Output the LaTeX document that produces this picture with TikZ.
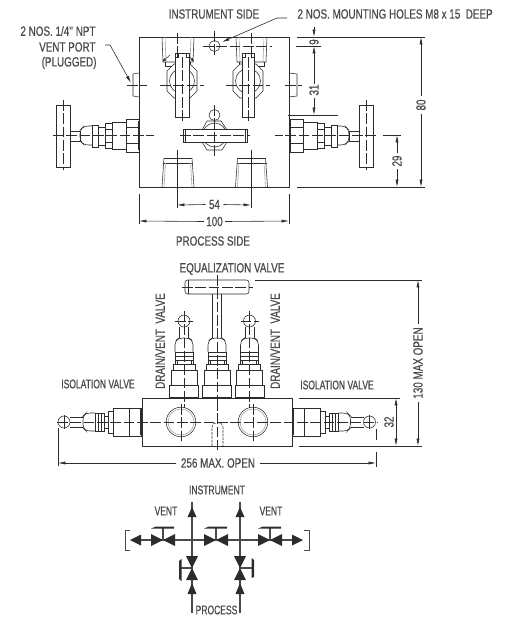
\documentclass[tikz,border=0pt]{standalone}
\usepackage{fontspec}
\usetikzlibrary{arrows.meta}
\newfontfamily\labelfont[FakeStretch=0.74,FakeBold=0.5]{Liberation Sans}
\newfontfamily\tightfont[FakeStretch=0.68,FakeBold=0.5]{Liberation Sans}
\definecolor{inkdark}{HTML}{2C2C2C}
\definecolor{inktext}{HTML}{4A4A4A}
\definecolor{inkgrey}{HTML}{A8A8A8}
\tikzset{every picture/.style={line width=0.75pt}}
\tikzset{
  part/.style={draw=inkdark,line width=0.42pt},
  partw/.style={draw=inkdark,fill=white,line width=0.42pt},
  soft/.style={draw=inkgrey,line width=0.45pt},
  centre/.style={draw=inkdark,line width=0.36pt,dash pattern=on 8pt off 2pt},
  dim/.style={draw=inkdark,line width=0.45pt},
  dimtip/.style={-{Latex[length=5.5pt,width=2.3pt]},draw=inkdark,line width=0.45pt},
  dimtips/.style={{Latex[length=5.5pt,width=2.3pt]}-{Latex[length=5.5pt,width=2.3pt]},draw=inkdark,line width=0.45pt},
  shorttip/.style={-{Latex[length=2.6pt,width=2.4pt]},draw=inkdark,line width=0.4pt},
  lab/.style={inner sep=0pt,text=inktext,font=\labelfont\fontsize{10pt}{11pt}\selectfont},
  labs/.style={inner sep=0pt,text=inktext,font=\tightfont\fontsize{9.4pt}{11pt}\selectfont},
  pipe/.style={draw=inktext,line width=0.9pt},
  solid/.style={fill=inkdark,draw=none},
}
\begin{document}
\begin{tikzpicture}[x=0.75pt,y=0.75pt,yscale=-1,xscale=1]
\useasboundingbox (0,0) rectangle (507,617);

%Front view: body
\draw [part] (139,37) rectangle (289,187);
%Side plugs
\draw [part] (139,73) -- (133,74) -- (133,96) -- (139,97);
\draw [part] (289,73) -- (297,74) -- (297,96) -- (289,97);
\draw [centre] (127,85) -- (147,85);
\draw [centre] (285,85) -- (302,85);
%Top ports
\draw [soft] (165,37) -- (166,62) (191,37) -- (190,62);
\draw [part] (162,37) -- (163,62) -- (193,62) -- (194,37);
\draw [part] (165,62) -- (165,66) -- (190,66) -- (190,62);
\draw [soft] (239,37) -- (240,62) (264,37) -- (263,62);
\draw [part] (236,37) -- (237,62) -- (266,62) -- (267,37);
\draw [part] (239,62) -- (239,66) -- (264,66) -- (264,62);
\draw [shorttip] (170,55) -- (162.5,61.5);
\draw [shorttip] (188,55) -- (194,61.5);
%Bottom ports
\foreach \px in {178,251.5} {
  \draw [part] (\px-14,158) -- (\px+14,158) (\px-15,163) -- (\px+15,163);
  \draw [part] (\px-14,158) -- (\px-16,187) (\px+14,158) -- (\px+16,187);
  \draw [soft] (\px-12.5,163) -- (\px-14,187) (\px+12.5,163) -- (\px+14,187);
}
%Top handles
\foreach \hx/\hw/\cx in {182/7/177,248/6/251} {
  \draw [partw] (\hx-15,71) -- (\hx-8,64) -- (\hx+8,64) -- (\hx+15,71) -- (\hx+15,91) -- (\hx+8,98) -- (\hx-8,98) -- (\hx-15,91) -- cycle;
  \draw [part] (\hx,81) circle [radius=12.5];
  \draw [partw] (\hx-\hw,53) rectangle (\hx+\hw,117);
  \draw [part] (\hx-\hw+3,53) -- (\hx-\hw+3,57) -- (\hx-\hw,57) (\hx+\hw-3,53) -- (\hx+\hw-3,57) -- (\hx+\hw,57);
  \draw [centre] (\hx,57) -- (\hx,122);
  \draw [centre] (\hx-22,85) -- (\hx+22,85);
  \draw [centre] (\cx,33) -- (\cx,58);
}
%Mounting hole
\draw [partw] (214.5,46) circle [radius=5.5];
\draw [centre] (203,46) -- (272,46);
\draw [centre] (214.5,31) -- (214.5,56);
%Centre handle
\draw [part] (207,121) -- (221,121) -- (227,130) -- (227,142) -- (222,150) -- (207,150) -- (202,142) -- (202,130) -- cycle;
\draw [part] (214.5,135) circle [radius=12];
\draw [partw] (214.5,115) circle [radius=5.5];
\draw [partw] (183,129) rectangle (247,142);
\draw [part,line width=0.9pt] (185.5,129) -- (185.5,142) (245.5,129) -- (245.5,142);
\draw [centre] (180,135.5) -- (250,135.5);
\draw [centre] (214.5,105) -- (214.5,158);
%Side valves, front view
\foreach \flip/\mx in {1/0,-1/429} {
\begin{scope}[shift={(\mx,0)},xscale=\flip]
  \draw [partw] (56,105) rectangle (70,167);
  \draw [centre] (63,100) -- (63,170);
  \draw [partw] (70,131) rectangle (80,141);
  \draw [part,rounded corners=3pt] (92,126) -- (84,126) -- (80,130) -- (80,141) -- (84,145) -- (92,145);
  \draw [part] (92,125) rectangle (98,147) (98,127) rectangle (105,145);
  \draw [part] (105,123) rectangle (112,148) (105,129) -- (112,129) (105,142) -- (112,142);
  \draw [part] (112,122) rectangle (126,149);
  \draw [part] (126,119) rectangle (139,152) (126,127) -- (139,127) (126,143) -- (139,143);
  \draw [part,line width=0.9pt] (138.5,121) -- (138.5,150);
  \draw [centre] (53,135.5) -- (154,135.5);
\end{scope}
}

%Front view dimensions
\draw [dim] (297,37) -- (425,37);
\draw [dim] (296,46) -- (321,46);
\draw [dim] (288,115) -- (338,115);
\draw [dim] (297,187) -- (425,187);
\draw [dim] (383,135) -- (401,135);
\coordinate (nineup) at (314,27);
\coordinate (ninetop) at (314,37);
\coordinate (ninelow) at (314,46);
\coordinate (ninedown) at (314,57);
\draw [dimtip] (nineup) -- (ninetop);
\draw [dimtip] (ninedown) -- (ninelow);
\node [lab,rotate=90] (dimnine) at (314,42) {9};
\node [lab,rotate=90] (dimthirty) at (314,90) {31};
\coordinate (thirtyend) at (314,115);
\draw [dim] (ninedown) -- (dimthirty.east);
\draw [dimtip] (dimthirty.west) ++(0,2) -- (thirtyend);
\node [lab,rotate=90] (dimeighty) at (421,105) {80};
\coordinate (eightytop) at (421,37);
\coordinate (eightylow) at (421,187);
\draw [dimtip] (dimeighty.east) ++(0,-3) -- (eightytop);
\draw [dimtip] (dimeighty.west) ++(0,3) -- (eightylow);
\node [lab,rotate=90] (dimtwentynine) at (397,161) {29};
\coordinate (twentytop) at (397,135);
\coordinate (twentylow) at (397,187);
\draw [dimtip] (dimtwentynine.east) ++(0,-2) -- (twentytop);
\draw [dimtip] (dimtwentynine.west) ++(0,2) -- (twentylow);
\draw [dim] (177,160) -- (177,208) (251,160) -- (251,208);
\draw [centre] (177,150) -- (177,185) (251,150) -- (251,185);
\draw [dim] (139,194) -- (139,224) (289,194) -- (289,224);
\node [lab] (dimfiftyfour) at (214.5,204.5) {54};
\coordinate (fiftyl) at (177,205);
\coordinate (fiftyr) at (251,205);
\draw [dimtip] (dimfiftyfour.west) ++(-3,0) -- (fiftyl);
\draw [dimtip] (dimfiftyfour.east) ++(3,0) -- (fiftyr);
\node [lab] (dimhundred) at (214.5,221.5) {100};
\coordinate (hundredl) at (139,221);
\coordinate (hundredr) at (289,221);
\draw [dimtip] (dimhundred.west) ++(-2,0) -- (hundredl);
\draw [dimtip] (dimhundred.east) ++(2,0) -- (hundredr);

%Front view labels
\node [lab] (instside) at (214,14) {INSTRUMENT SIDE};
\node [lab,anchor=west] (holes) at (297,14) {2 NOS. MOUNTING HOLES M8 x 15\ \ DEEP};
\node [lab] (procside) at (213,241) {PROCESS SIDE};
\node [lab,anchor=east] (ventone) at (96,31) {2 NOS. 1/4'' NPT};
\node [lab,anchor=east] (venttwo) at (96,47) {VENT PORT};
\node [lab,anchor=east] (ventthree) at (97,63) {(PLUGGED)};
\coordinate (holebend) at (277,18);
\coordinate (plugbend) at (110,45);
\draw [dimtip] (287,18) -- (holebend) -- (222,42);
\draw [dimtip] (105,45) -- (plugbend) -- (131,83);

%Side view: body
\draw [part] (142,398) rectangle (292,446);
\foreach \hx in {181,253} {
  \draw [part] (\hx,422) circle [radius=14.8];
  \draw [soft] (\hx,422) circle [radius=13];
  \draw [centre] (\hx,404) -- (\hx,441);
}
\draw [part,dash pattern=on 2pt off 0.8pt] (212,446) -- (212,427) .. controls (212,421) and (223,421) .. (223,427) -- (223,446);
\draw [centre] (217,400) -- (217,450);
%Isolation valves
\foreach \flip/\mx in {1/0,-1/433.5} {
\begin{scope}[shift={(\mx,0)},xscale=\flip]
  \draw [part] (64,422) circle [radius=6];
  \draw [part] (70,417) -- (83,417) (70,427) -- (83,427);
  \draw [part,rounded corners=3pt] (95,413) -- (86,413) -- (83,416) -- (83,428) -- (86,431) -- (95,431);
  \draw [part] (95,413) rectangle (104,431) (98,413) -- (98,431) (101,413) -- (101,431);
  \draw [part] (104,416) rectangle (108,428);
  \draw [part] (108,411) rectangle (113,433);
  \draw [part] (113,408) rectangle (129,436);
  \draw [part] (129,408) rectangle (141,436);
  \draw [part,line width=0.9pt] (140.5,409) -- (140.5,435);
  \draw [part] (64,415) -- (64,429);
\end{scope}
}
\draw [centre] (57,422) -- (378,422);
%Drain, vent and equalization valves
\foreach \sx in {184,217,249.5} {
  \draw [part] (\sx-4.5,327) -- (\sx-4.5,338) (\sx+4.5,327) -- (\sx+4.5,338);
  \draw [part,rounded corners=3pt] (\sx-9,352) -- (\sx-9,341) -- (\sx-5,338) -- (\sx+5,338) -- (\sx+9,341) -- (\sx+9,352);
  \draw [part] (\sx-9,352) -- (\sx+9,352) (\sx-9,356) -- (\sx+9,356) (\sx-9,360) -- (\sx+9,360) (\sx-9,352) -- (\sx-9,364) (\sx+9,352) -- (\sx+9,364);
  \draw [part] (\sx-7,360) -- (\sx-7,364) (\sx+7,360) -- (\sx+7,364);
  \draw [part] (\sx-11,364) rectangle (\sx+11,370);
  \draw [part] (\sx-13,370) rectangle (\sx+13,385);
  \draw [part] (\sx-14.5,385) rectangle (\sx+14.5,398);
  \draw [part,line width=0.9pt] (\sx-14,397.5) -- (\sx+14,397.5);
}
\foreach \sx in {184,249.5} {
  \draw [partw] (\sx,321) circle [radius=6];
  \draw [centre] (\sx-9,321) -- (\sx+9,321);
  \draw [centre] (\sx,311) -- (\sx,408);
}
\draw [partw,rounded corners=2pt] (185,280) rectangle (249,294);
\draw [part] (212.5,294) -- (212.5,338) (221.5,294) -- (221.5,338);
\draw [part] (188,280) -- (188,294);
\draw [centre] (182,287) -- (253,287);
\draw [centre] (217,275) -- (217,400);

%Side view dimensions
\draw [dim] (255,280) -- (422,280);
\draw [dim] (299,398) -- (400,398);
\draw [dim] (299,446) -- (422,446);
\draw [dim] (58,428) -- (58,466);
\draw [dim] (376,429) -- (376,440) (376,452) -- (376,467);
\coordinate (opentop) at (418,280);
\coordinate (openlow) at (418,446);
\node [lab,rotate=90] (dimopen) at (418,363) {130 MAX OPEN};
\draw [dimtip] (dimopen.east) ++(0,-3) -- (opentop);
\draw [dimtip] (dimopen.west) ++(0,3) -- (openlow);
\coordinate (sidetop) at (396,398);
\coordinate (sidelow) at (396,446);
\draw [dimtips] (sidetop) -- (sidelow);
\node [lab,rotate=90] (dimside) at (389,422) {32};
\node [lab] (dimwide) at (218,463) {256 MAX. OPEN};
\coordinate (widel) at (58,463);
\coordinate (wider) at (376,463);
\draw [dimtip] (dimwide.west) ++(-4,0) -- (widel);
\draw [dimtip] (dimwide.east) ++(4,0) -- (wider);

%Side view labels
\node [lab] (equal) at (232,269) {EQUALIZATION VALVE};
\node [lab,rotate=90] (drainl) at (160,341) {DRAIN/VENT\ \ VALVE};
\node [lab,rotate=90] (drainr) at (275,341) {DRAIN/VENT\ \ VALVE};
\node [labs] (isol) at (98,384) {ISOLATION VALVE};
\node [labs] (isor) at (337,385) {ISOLATION VALVE};

%Flow scheme
\node [labs] (inst) at (217,490) {INSTRUMENT};
\node [labs] (proc) at (216.5,610) {PROCESS};
\node [labs] (ventl) at (166,511) {VENT};
\node [labs] (ventr) at (271,511) {VENT};
\coordinate (instl) at (192,502);
\coordinate (instr) at (240,502);
\coordinate (procl) at (192,613);
\coordinate (procr) at (240,613);
\coordinate (leftend) at (134,540);
\coordinate (rightend) at (300,540);
\draw [pipe] (instl) -- (procl);
\draw [pipe] (instr) -- (procr);
\draw [pipe] (leftend) -- (rightend);
\draw [draw=inktext,line width=0.6pt] (130,530) -- (125,530) -- (125,550) -- (130,550);
\draw [draw=inktext,line width=0.6pt] (304,530) -- (309,530) -- (309,550) -- (304,550);
\path [solid] (130,540) -- (141,534.5) -- (141,545.5) -- cycle;
\path [solid] (303,540) -- (292,534.5) -- (292,545.5) -- cycle;
\foreach \vx in {163,216,270} {
  \path [solid] (\vx-12,534) -- (\vx+12,546) -- (\vx+12,534) -- (\vx-12,546) -- cycle;
  \draw [pipe] (\vx,540) -- (\vx,528);
  \path [solid] (\vx-12,528.5) -- (\vx-7,526.5) -- (\vx+11,526.5) -- (\vx+11,528.5) -- cycle;
}
\foreach \vx in {192,240} {
  \path [solid] (\vx,507) -- (\vx+4.5,517) -- (\vx-4.5,517) -- cycle;
  \path [solid] (\vx,583) -- (\vx+4.5,594) -- (\vx-4.5,594) -- cycle;
  \path [solid] (\vx-6,556) -- (\vx+6,580) -- (\vx-6,580) -- (\vx+6,556) -- cycle;
}
\draw [pipe] (192,568) -- (180,568);
\path [solid] (179,561) -- (181.5,559) -- (181.5,581) -- (179,579) -- cycle;
\draw [pipe] (240,568) -- (253,568);
\path [solid] (254,560) -- (251.5,558) -- (251.5,578) -- (254,577) -- cycle;

\end{tikzpicture}
\end{document}
